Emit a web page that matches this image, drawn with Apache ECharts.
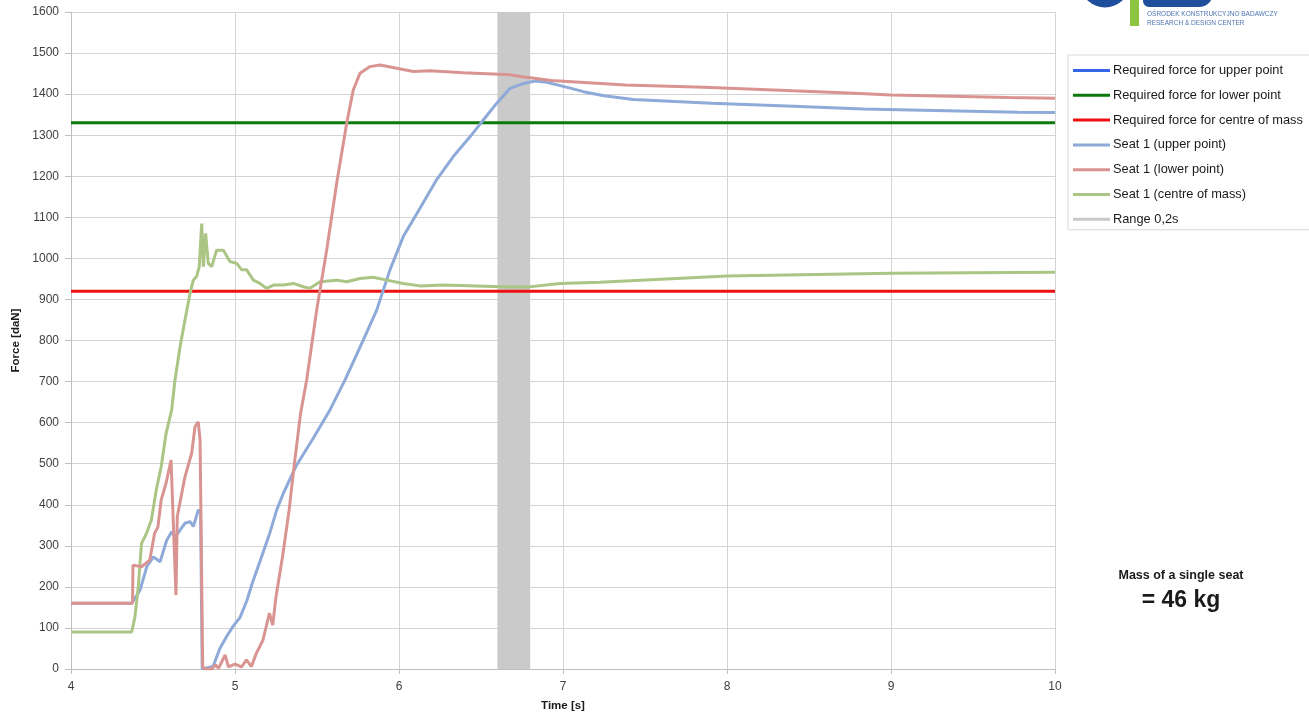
<!DOCTYPE html>
<html>
<head>
<meta charset="utf-8">
<script src="https://cdn.jsdelivr.net/npm/echarts@6/dist/echarts.min.js"></script>
<style>
  html, body { margin: 0; padding: 0; background: #fff; }
  #chart { width: 1309px; height: 719px; }
</style>
</head>
<body>
<div id="chart"></div>
<script>
// Seat 1 (lower point): time [s] and force [daN]
var lowerT = [4.00, 4.375, 4.378, 4.43, 4.48, 4.51, 4.53, 4.55, 4.58, 4.61, 4.62, 4.64, 4.648, 4.695, 4.736, 4.756, 4.776, 4.787, 4.803, 4.82, 4.86, 4.88, 4.90, 4.94, 4.96, 5.00, 5.04, 5.07, 5.10, 5.13, 5.17, 5.21, 5.23, 5.25, 5.29, 5.33, 5.36, 5.40, 5.437, 5.498, 5.559, 5.620, 5.681, 5.721, 5.762, 5.823, 5.884, 5.986, 6.087, 6.189, 6.392, 6.575, 6.677, 6.74, 6.93, 7.38, 7.86, 8.40, 8.78, 9.00, 9.72, 10.00];
var lowerV = [160, 160, 253, 249, 265, 331, 346, 412, 453, 509, 510, 180, 371, 468, 526, 590, 602, 558, 5, 0, 0, 10, 2, 34, 5, 12, 5, 22, 6, 38, 70, 136, 107, 176, 274, 387, 493, 623, 704, 874, 1020, 1183, 1329, 1410, 1451, 1467, 1471, 1463, 1455, 1457, 1452, 1449, 1447, 1443, 1433, 1422, 1417, 1408, 1402, 1398, 1392, 1390];

// Seat 1 (upper point)
var upperT = [4.00, 4.37, 4.421, 4.462, 4.502, 4.543, 4.584, 4.614, 4.634, 4.665, 4.695, 4.726, 4.746, 4.776, 4.79, 4.80, 4.866, 4.909, 4.949, 4.990, 5.030, 5.071, 5.112, 5.152, 5.213, 5.254, 5.295, 5.376, 5.477, 5.579, 5.671, 5.782, 5.864, 5.945, 6.026, 6.128, 6.230, 6.331, 6.433, 6.514, 6.596, 6.677, 6.760, 6.83, 6.90, 6.971, 7.050, 7.124, 7.250, 7.429, 7.907, 8.445, 8.831, 9.776, 10.00];
var upperV = [160, 160, 192, 249, 273, 261, 314, 334, 322, 338, 355, 359, 347, 387, 385, 0, 6, 51, 79, 105, 125, 165, 217, 262, 332, 387, 428, 497, 562, 631, 704, 801, 874, 972, 1053, 1122, 1192, 1248, 1296, 1337, 1378, 1414, 1426, 1432, 1429, 1422, 1414, 1406, 1396, 1387, 1378, 1370, 1364, 1356, 1355];

// Seat 1 (centre of mass)
var centreT = [4.00, 4.37, 4.39, 4.41, 4.43, 4.46, 4.49, 4.52, 4.55, 4.58, 4.614, 4.634, 4.665, 4.695, 4.726, 4.746, 4.766, 4.782, 4.797, 4.807, 4.821, 4.837, 4.858, 4.888, 4.929, 4.970, 5.010, 5.041, 5.071, 5.112, 5.152, 5.193, 5.234, 5.295, 5.356, 5.417, 5.457, 5.518, 5.620, 5.681, 5.762, 5.843, 5.926, 6.026, 6.128, 6.270, 6.474, 6.677, 6.779, 6.982, 7.226, 8.00, 9.00, 10.00];
var centreV = [90, 90, 127, 200, 306, 330, 363, 436, 493, 574, 631, 704, 785, 850, 915, 947, 956, 980, 1085, 980, 1061, 988, 980, 1020, 1020, 992, 988, 972, 972, 947, 939, 927, 935, 935, 939, 931, 927, 943, 947, 943, 951, 954, 947, 939, 933, 935, 933, 930, 930, 939, 942, 957, 964, 966];

// Required force levels [daN]
var reqLower = 1330;
var reqCentre = 920;

// Evaluation window [s]
var rangeWindow = [[6.6, 6.8]];

// Axis ticks
var xTicks = [4, 5, 6, 7, 8, 9, 10];
var yMin = 0, yMax = 1600, yStep = 100;

var seriesNames = [
  'Required force for upper point',
  'Required force for lower point',
  'Required force for centre of mass',
  'Seat 1 (upper point)',
  'Seat 1 (lower point)',
  'Seat 1 (centre of mass)',
  'Range 0,2s'
];

function pairs(ts, vs) {
  return ts.map(function (t, i) { return [t, vs[i]]; });
}
function flat(v) {
  return [[xTicks[0], v], [xTicks[xTicks.length - 1], v]];
}

var chart = echarts.init(document.getElementById('chart'), null, { renderer: 'canvas' });

var FONT = '"Liberation Sans", Arial, sans-serif';
var lineBase = { type: 'line', showSymbol: false, symbol: 'none', smooth: false, animation: false };

var option = {
  backgroundColor: '#ffffff',
  animation: false,
  grid: { left: 71, right: 254, top: 12, bottom: 50, containLabel: false },
  xAxis: {
    type: 'value',
    min: xTicks[0], max: xTicks[xTicks.length - 1], interval: 1,
    name: 'Time [s]', nameLocation: 'middle', nameGap: 31,
    nameTextStyle: { fontFamily: FONT, fontSize: 11.5, fontWeight: 'bold', color: '#1a1a1a' },
    axisLine: { show: true, lineStyle: { color: '#bfbfbf', width: 1 } },
    axisTick: { show: true, length: 5, lineStyle: { color: '#bfbfbf' } },
    axisLabel: { fontFamily: FONT, fontSize: 12, color: '#404040', margin: 12 },
    splitLine: { show: true, lineStyle: { color: '#d4d4d4', width: 1 } }
  },
  yAxis: {
    type: 'value',
    min: yMin, max: yMax, interval: yStep,
    name: 'Force [daN]', nameLocation: 'middle', nameGap: 45, nameRotate: 90,
    nameTextStyle: { fontFamily: FONT, fontSize: 11.5, fontWeight: 'bold', color: '#1a1a1a' },
    axisLine: { show: true, lineStyle: { color: '#bfbfbf', width: 1 } },
    axisTick: { show: true, length: 6, lineStyle: { color: '#bfbfbf' } },
    axisLabel: { fontFamily: FONT, fontSize: 12, color: '#404040', margin: 12, formatter: function (v) { return String(v); } },
    splitLine: { show: true, lineStyle: { color: '#d4d4d4', width: 1 } }
  },
  legend: {
    orient: 'vertical',
    left: 1068, top: 55,
    padding: [9, 30, 4, 5],
    itemGap: 11.8,
    itemWidth: 37, itemHeight: 3,
    icon: 'rect',
    backgroundColor: '#ffffff',
    borderColor: '#d9d9d9', borderWidth: 1,
    textStyle: { fontFamily: FONT, fontSize: 12.8, color: '#1a1a1a', padding: [0, 0, 0, -2] },
    data: seriesNames
  },
  series: [
    Object.assign({}, lineBase, {
      name: seriesNames[0], data: [], color: '#3366e6', z: 5,
      lineStyle: { width: 3, color: '#3366e6' }
    }),
    Object.assign({}, lineBase, {
      name: seriesNames[1], data: flat(reqLower), color: '#0a7a0a', z: 5,
      lineStyle: { width: 3, color: '#0a7a0a' }
    }),
    Object.assign({}, lineBase, {
      name: seriesNames[2], data: flat(reqCentre), color: '#ee1111', z: 5,
      lineStyle: { width: 3, color: '#ee1111' }
    }),
    Object.assign({}, lineBase, {
      name: seriesNames[3], data: pairs(upperT, upperV), color: '#8eaad8', z: 6,
      lineStyle: { width: 3, color: '#8eaad8' }
    }),
    Object.assign({}, lineBase, {
      name: seriesNames[4], data: pairs(lowerT, lowerV), color: '#d99492', z: 7,
      lineStyle: { width: 3, color: '#d99492' }
    }),
    Object.assign({}, lineBase, {
      name: seriesNames[5], data: pairs(centreT, centreV), color: '#abc585', z: 6,
      lineStyle: { width: 3, color: '#abc585' }
    }),
    {
      // shaded evaluation window behind the curves
      type: 'custom',
      name: seriesNames[6],
      color: '#c9c9c9',
      z: 0,
      silent: true,
      encode: { x: [0, 1] },
      data: rangeWindow,
      renderItem: function (params, api) {
        var p0 = api.coord([api.value(0), yMax]);
        var p1 = api.coord([api.value(1), yMin]);
        return {
          type: 'rect',
          z2: 0,
          shape: { x: p0[0], y: p0[1], width: p1[0] - p0[0], height: p1[1] - p0[1] },
          style: { fill: '#cacaca' }
        };
      }
    }
  ],
  graphic: [
    // company logo, cut by the top edge
    { type: 'ellipse', shape: { cx: 1105, cy: -14, rx: 19, ry: 17 }, style: { fill: 'none', stroke: '#1f4f9c', lineWidth: 9 }, z: 20 },
    { type: 'rect', shape: { x: 1130, y: 0, width: 9, height: 26 }, style: { fill: '#8cc641' }, z: 20 },
    { type: 'rect', shape: { x: 1143, y: -20, width: 70, height: 27, r: [0, 0, 14, 6] }, style: { fill: '#1f4f9c' }, z: 20 },
    { type: 'text', left: 1147, top: 11, style: { text: 'OŚRODEK KONSTRUKCYJNO BADAWCZY', fontFamily: FONT, fontSize: 6.5, fill: '#4e74b0' }, z: 20 },
    { type: 'text', left: 1147, top: 20, style: { text: 'RESEARCH & DESIGN CENTER', fontFamily: FONT, fontSize: 6.5, fill: '#4e74b0' }, z: 20 },
    // seat mass note
    { type: 'text', x: 1181, y: 576, style: { text: 'Mass of a single seat', fontFamily: FONT, fontSize: 12.5, fontWeight: 'bold', fill: '#1a1a1a', align: 'center', verticalAlign: 'middle' }, z: 20 },
    { type: 'text', x: 1181, y: 601, style: { text: '= 46 kg', fontFamily: FONT, fontSize: 23, fontWeight: 'bold', fill: '#1a1a1a', align: 'center', verticalAlign: 'middle' }, z: 20 }
  ]
};

chart.setOption(option);
</script>
</body>
</html>
